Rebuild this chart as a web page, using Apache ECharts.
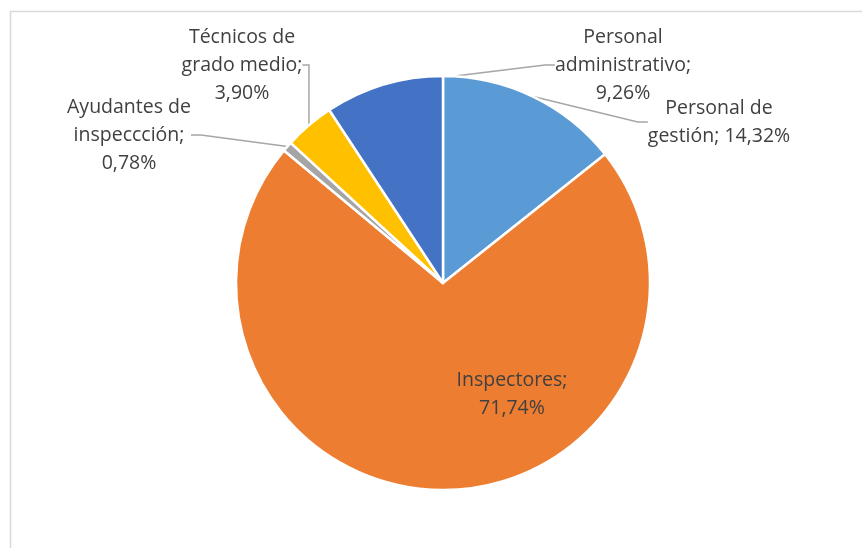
<!DOCTYPE html>
<html>
<head>
<meta charset="utf-8">
<script src="https://cdn.jsdelivr.net/npm/echarts@6/dist/echarts.min.js"></script>
<style>
  html, body { margin: 0; padding: 0; background: #fff; }
  #main { width: 862px; height: 548px; }
</style>
</head>
<body>
<div id="main"></div>
<script>
// datos del gráfico (orden de las agujas del reloj desde arriba)
var categories = ['Personal de gestión', 'Inspectores', 'Ayudantes de inspeccción', 'Técnicos de grado medio', 'Personal administrativo'];
var values = [14.32, 71.74, 0.78, 3.90, 9.26];
// cortes de línea de cada etiqueta
var labelNames = ['Personal de\ngestión;', 'Inspectores;\n', 'Ayudantes de\ninspeccción;\n', 'Técnicos de\ngrado medio;\n', 'Personal\nadministrativo;\n'];
var colors = ['#5B9BD5', '#ED7D31', '#A5A5A5', '#FFC000', '#4472C4'];

// posición de las etiquetas (centro del bloque de texto)
var labelPos = [[719, 122], [512, 394], [129, 135], [242, 65], [623, 65]];

var seriesData = categories.map(function (name, i) {
  var item = { name: name, value: values[i], itemStyle: { color: colors[i] } };
  if (i === 1) {
    item.label = { position: 'inside' };
    item.labelLine = { show: false };
  }
  return item;
});

var chart = echarts.init(document.getElementById('main'));
chart.setOption({
  animation: false,
  graphic: [{
    type: 'rect',
    shape: { x: 10.5, y: 11.5, width: 900, height: 600 },
    style: { fill: null, stroke: '#d9d9d9', lineWidth: 1.5 },
    silent: true
  }],
  series: [{
    type: 'pie',
    center: [443, 283],
    radius: 207,
    startAngle: 90,
    clockwise: true,
    avoidLabelOverlap: false,
    itemStyle: { borderColor: '#fff', borderWidth: 2.5 },
    label: {
      show: true,
      position: 'outside',
      color: '#404040',
      fontFamily: 'Open Sans',
      fontSize: 19.5,
      lineHeight: 28,
      align: 'center',
      formatter: function (p) {
        var sep = p.dataIndex === 0 ? ' ' : '';
        return labelNames[p.dataIndex] + sep + p.value.toFixed(2).replace('.', ',') + '%';
      }
    },
    labelLine: {
      show: true,
      length: 10,
      length2: 10,
      lineStyle: { color: '#a6a6a6', width: 1.5 }
    },
    labelLayout: function (params) {
      var pos = labelPos[params.dataIndex];
      return { x: pos[0], y: pos[1], align: 'center', verticalAlign: 'middle' };
    },
    data: seriesData
  }]
});
</script>
</body>
</html>
